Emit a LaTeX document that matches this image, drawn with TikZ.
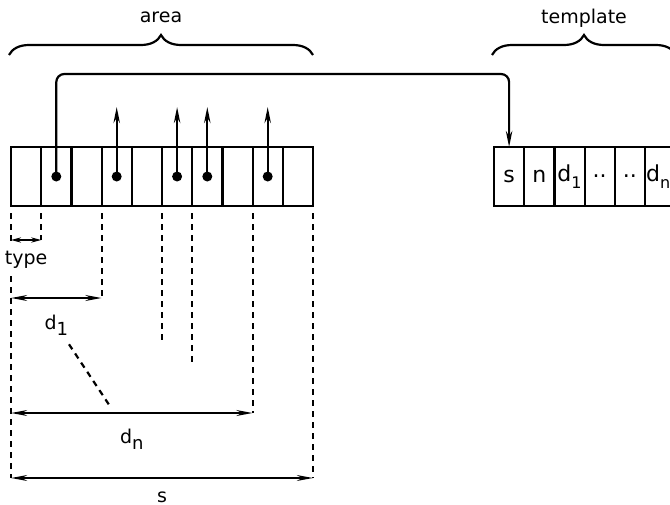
\documentclass[tikz,border=0pt]{standalone}
\usepackage{fontspec}
\setmainfont{DejaVu Sans}
\usetikzlibrary{positioning,arrows.meta,decorations.pathreplacing}
\newcommand{\idx}[2]{#1\raisebox{-0.6ex}{\small #2}}
\newcommand{\tidx}[2]{#1\raisebox{-0.6ex}{\footnotesize #2}}

\begin{document}
\begin{tikzpicture}[
  x=0.5pt, y=-0.5pt, line width=1.1pt, font=\fontsize{9.5}{11}\selectfont,
  cell/.style={rectangle, draw, minimum width=15.1pt, minimum height=29.5pt,
    inner sep=0pt, outer sep=0pt},
  tcell/.style={cell, font=\fontsize{11}{13}\selectfont},
  dot/.style={circle, fill, inner sep=0pt, minimum size=5pt},
  arrow/.style={-{Stealth[length=8pt, width=3.2pt]}},
  dim/.style={{Stealth[length=8pt, width=2.9pt]}-{Stealth[length=8pt, width=2.9pt]}},
  smalldim/.style={{Stealth[length=5pt, width=2.6pt]}-{Stealth[length=5pt, width=2.6pt]}},
  guide/.style={dash pattern=on 3pt off 2.5pt},
  brace/.style={decorate, decoration={brace, amplitude=10pt}}]
  \useasboundingbox (0,0) rectangle (670,504);

  % area cells
  \node[cell] (a1) at (26.1,176.5) {};
  \foreach \i [count=\j from 2] in {1,...,9}
    \node[cell, right=0pt of a\i] (a\j) {};

  % template cells
  \node[tcell] (t1) at (509.1,176.5) {s};
  \foreach \i/\j/\txt in {1/2/n, 2/3/{\tidx{d}{1}}, 3/4/.., 4/5/..,
      5/6/{\makebox[14pt][l]{\tidx{d}{n}}}}
    \node[tcell, right=0pt of t\i] (t\j) {\txt};

  % pointers
  \foreach \i in {2,4,6,7,9}
    \node[dot] (p\i) at (a\i.center) {};
  \foreach \i in {4,6,7,9} {
    \path (a\i.north) ++(0,-40) coordinate (u\i);
    \draw[arrow] (p\i.center) -- (u\i);
  }
  \coordinate (hook) at (300,74);
  \draw[arrow, rounded corners=4pt] (p2.center) |- (hook) -| (t1.north);

  % braces
  \coordinate (al) at (9,55);
  \coordinate (ar) at (313,55);
  \coordinate (tl) at (492,55);
  \coordinate (tr) at (676,55);
  \draw[brace] (al) -- node[above=12pt] (area) {area} (ar);
  \draw[brace] (tl) -- node[above=12pt, text depth=0pt] (tmpl) {template} (tr);

  % guide lines
  \path (a1.south west) ++(0,7) coordinate (l0) ++(0,30) coordinate (l1)
    ++(0,33) coordinate (l2);
  \path (a1.south west) ++(0,272) coordinate (l3);
  \draw[guide] (l0) -- (l1);
  \draw[guide] (l2) -- (l3);
  \foreach \k/\len in {1/34, 3/92, 5/134, 6/156, 8/207, 10/272} {
    \path (a\k.south east) ++(0,7) coordinate (g\k);
    \path (a\k.south east) ++(0,\len) coordinate (h\k);
    \draw[guide] (g\k) -- (h\k);
  }

  % dimensions
  \draw[smalldim] (a1.south west |- h1) -- node[below=1.5pt] (ltype) {type} (h1);
  \draw[dim] (a1.south west |- h3) -- node[below=4.5pt] (ld1) {\idx{d}{1}} (h3);
  \draw[dim] (a1.south west |- h8) -- node[below=4pt] (ldn) {\idx{d}{n}} (h8);
  \draw[dim] (a1.south west |- h10) -- node[below=3pt] (ls) {s} (h10);
  \draw[guide, shorten <=11.5pt, shorten >=20pt] (ld1.center) -- (ldn.center);
\end{tikzpicture}
\end{document}
